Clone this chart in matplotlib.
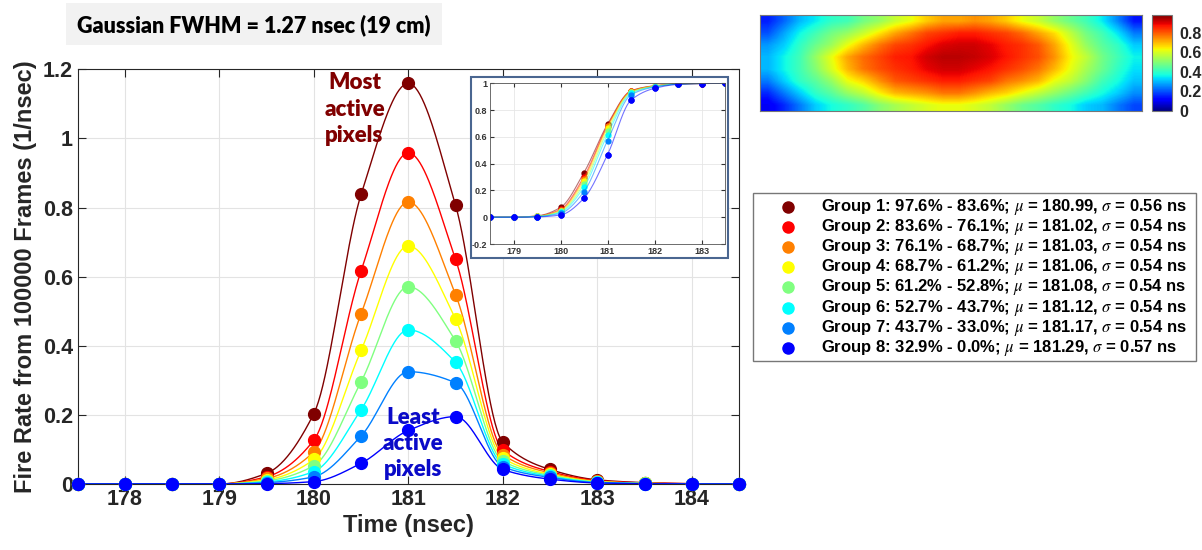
import numpy as np
import matplotlib
matplotlib.use('Agg')
import matplotlib.pyplot as plt
from matplotlib.patches import Rectangle
from matplotlib.ticker import FuncFormatter

plt.rcParams['mathtext.fontset'] = 'stix'
plt.rcParams['font.family'] = ['Liberation Sans', 'DejaVu Sans']

# time bins (nsec)
t_ns = [177.5, 178, 178.5, 179, 179.5, 180, 180.5, 181, 181.5, 182, 182.5, 183, 183.5, 184, 184.5]

# fire rate per group (1/nsec), group 1 = most active pixels
g1 = [0, 0, 0, 0, 0.031, 0.204, 0.838, 1.159, 0.806, 0.121, 0.042, 0.012, 0.004, 0.001, 0]
g2 = [0, 0, 0, 0, 0.021, 0.127, 0.617, 0.958, 0.650, 0.098, 0.036, 0.010, 0.003, 0.001, 0]
g3 = [0, 0, 0, 0, 0.016, 0.093, 0.493, 0.816, 0.548, 0.085, 0.032, 0.008, 0.002, 0, 0]
g4 = [0, 0, 0, 0, 0.012, 0.071, 0.387, 0.689, 0.477, 0.075, 0.028, 0.007, 0.002, 0, 0]
g5 = [0, 0, 0, 0, 0.009, 0.053, 0.296, 0.571, 0.414, 0.066, 0.025, 0.006, 0.002, 0, 0]
g6 = [0, 0, 0, 0, 0.006, 0.036, 0.215, 0.446, 0.352, 0.058, 0.022, 0.005, 0.001, 0, 0]
g7 = [0, 0, 0, 0, 0.004, 0.021, 0.139, 0.325, 0.293, 0.050, 0.019, 0.004, 0.001, 0, 0]
g8 = [0, 0, 0, 0, 0.001, 0.007, 0.060, 0.155, 0.195, 0.042, 0.014, 0.003, 0.001, 0, 0]
groups = [g1, g2, g3, g4, g5, g6, g7, g8]

# legend info
pct_hi = ['97.6', '83.6', '76.1', '68.7', '61.2', '52.7', '43.7', '32.9']
pct_lo = ['83.6', '76.1', '68.7', '61.2', '52.8', '43.7', '33.0', '0.0']
mu = ['180.99', '181.02', '181.03', '181.06', '181.08', '181.12', '181.17', '181.29']
sigma = ['0.56', '0.54', '0.54', '0.54', '0.54', '0.54', '0.54', '0.57']

# jet(8), reversed so group 1 is dark red
colors = ['#800000', '#ff0000', '#ff8000', '#ffff00', '#80ff80', '#00ffff', '#0080ff', '#0000ff']

# pixel activity map (coarse estimate, rows top->bottom)
pixel_activity = [
    [0.15, 0.22, 0.3, 0.35, 0.4, 0.42, 0.48, 0.52, 0.58, 0.62, 0.68, 0.72, 0.72, 0.74, 0.72, 0.68, 0.62, 0.58, 0.52, 0.47, 0.42, 0.35, 0.25, 0.14],
    [0.2, 0.28, 0.36, 0.42, 0.48, 0.52, 0.58, 0.65, 0.72, 0.77, 0.82, 0.84, 0.86, 0.86, 0.84, 0.82, 0.78, 0.72, 0.66, 0.57, 0.48, 0.42, 0.34, 0.24],
    [0.27, 0.32, 0.4, 0.47, 0.53, 0.62, 0.7, 0.77, 0.82, 0.84, 0.87, 0.9, 0.91, 0.91, 0.89, 0.86, 0.84, 0.8, 0.72, 0.62, 0.52, 0.45, 0.4, 0.32],
    [0.3, 0.36, 0.42, 0.52, 0.62, 0.72, 0.78, 0.82, 0.86, 0.87, 0.91, 0.93, 0.93, 0.92, 0.9, 0.87, 0.84, 0.81, 0.74, 0.64, 0.57, 0.48, 0.42, 0.36],
    [0.3, 0.36, 0.42, 0.5, 0.6, 0.7, 0.77, 0.81, 0.84, 0.86, 0.89, 0.91, 0.91, 0.89, 0.87, 0.84, 0.81, 0.77, 0.7, 0.62, 0.54, 0.47, 0.4, 0.34],
    [0.24, 0.32, 0.4, 0.45, 0.52, 0.62, 0.67, 0.74, 0.8, 0.82, 0.84, 0.86, 0.86, 0.84, 0.82, 0.77, 0.74, 0.7, 0.62, 0.57, 0.5, 0.42, 0.37, 0.31],
    [0.16, 0.24, 0.32, 0.4, 0.45, 0.52, 0.57, 0.64, 0.7, 0.72, 0.74, 0.77, 0.77, 0.74, 0.7, 0.67, 0.62, 0.57, 0.52, 0.47, 0.42, 0.37, 0.32, 0.26],
    [0.1, 0.16, 0.24, 0.32, 0.37, 0.4, 0.44, 0.5, 0.54, 0.57, 0.6, 0.62, 0.62, 0.6, 0.57, 0.52, 0.47, 0.44, 0.4, 0.37, 0.32, 0.3, 0.24, 0.19],
]


def pchip(x, y, xq):
    # shape preserving piecewise cubic, like matlab's pchip
    x = np.asarray(x, float)
    y = np.asarray(y, float)
    h = np.diff(x)
    delta = np.diff(y) / h
    d = np.zeros_like(y)
    for k in range(1, len(y) - 1):
        if delta[k - 1] * delta[k] > 0:
            w1 = 2 * h[k] + h[k - 1]
            w2 = h[k] + 2 * h[k - 1]
            d[k] = (w1 + w2) / (w1 / delta[k - 1] + w2 / delta[k])
    idx = np.clip(np.searchsorted(x, xq) - 1, 0, len(h) - 1)
    s = (xq - x[idx]) / h[idx]
    h00 = 2 * s**3 - 3 * s**2 + 1
    h10 = s**3 - 2 * s**2 + s
    h01 = -2 * s**3 + 3 * s**2
    h11 = s**3 - s**2
    return h00 * y[idx] + h10 * h[idx] * d[idx] + h01 * y[idx + 1] + h11 * h[idx] * d[idx + 1]


W, H = 1202, 550
fig = plt.figure(figsize=(W / 100, H / 100), dpi=100)


def box(l, t, r, b):
    return [l / W, 1 - b / H, (r - l) / W, (b - t) / H]


fmt = FuncFormatter(lambda v, p: '%g' % round(v, 2))
tq = np.linspace(t_ns[0], t_ns[-1], 600)

# main plot
ax = fig.add_axes(box(77.7, 69.3, 739, 484))
for g, c in zip(groups, colors):
    ax.plot(tq, pchip(t_ns, g, tq), color=c, lw=1)
    ax.plot(t_ns, g, 'o', color=c, ms=8.5, clip_on=False, zorder=3)
ax.set_xlim(177.5, 184.5)
ax.set_ylim(0, 1.2)
ax.set_xticks(range(178, 185))
ax.set_yticks(np.arange(0, 1.21, 0.2))
ax.yaxis.set_major_formatter(fmt)
ax.tick_params(direction='in', top=True, right=True, labelsize=15.5, length=6, color='#262626')
for lab in ax.get_xticklabels() + ax.get_yticklabels():
    lab.set_fontweight('bold')
    lab.set_color('#262626')
ax.grid(True, color='#e3e3e3', lw=0.8)
for sp in ax.spines.values():
    sp.set_color('#262626')
ax.set_xlabel('Time (nsec)', fontsize=17, fontweight='bold', color='#262626', labelpad=3)
ax.set_ylabel('Fire Rate from 100000 Frames (1/nsec)', fontsize=17, fontweight='bold', color='#262626', labelpad=4)

ax.text(180.43, 1.085, 'Most\nactive\npixels', color='#800000', fontsize=16, fontweight='heavy',
        family=['Lato', 'DejaVu Sans'], ha='center', va='center', linespacing=1.3)
ax.text(181.05, 0.118, 'Least\nactive\npixels', color='#0a0ac8', fontsize=16, fontweight='heavy',
        family=['Lato', 'DejaVu Sans'], ha='center', va='center', linespacing=1.3)

# inset: normalized cumulative rate
fig.patches.append(Rectangle((471 / W, 1 - 258 / H), 257 / W, 181 / H, transform=fig.transFigure,
                             facecolor='white', edgecolor='#4a6690', lw=1.5, zorder=2))
axi = fig.add_axes(box(490, 83.3, 725, 244), zorder=3)
for g, c in zip(groups, colors):
    cdf = np.cumsum(g) / np.sum(g)
    axi.plot(tq, pchip(t_ns, cdf, tq), color=c, lw=0.8, alpha=0.55)
    axi.plot(t_ns, cdf, 'o', color=c, ms=3.5)
axi.plot(t_ns, np.cumsum(g8) / np.sum(g8), 'o', color='#0000ff', ms=3.5)
axi.set_xlim(178.5, 183.5)
axi.set_ylim(-0.2, 1)
axi.set_xticks(range(179, 184))
axi.set_yticks(np.arange(-0.2, 1.01, 0.2))
axi.yaxis.set_major_formatter(fmt)
axi.tick_params(direction='in', top=True, right=True, labelsize=6.5, length=3, pad=2, colors='#333333')
for lab in axi.get_xticklabels() + axi.get_yticklabels():
    lab.set_fontweight('bold')
axi.grid(True, color='#e6e6e6', lw=0.6)
for sp in axi.spines.values():
    sp.set_color('#555555')
    sp.set_linewidth(0.6)

# pixel map and colorbar
axh = fig.add_axes(box(760, 15, 1142, 111))
im = axh.imshow(pixel_activity, cmap='jet', vmin=0, vmax=0.98, aspect='auto', interpolation='bilinear')
axh.set_xticks([])
axh.set_yticks([])
for sp in axh.spines.values():
    sp.set_color('#777777')
axc = fig.add_axes(box(1152, 15, 1172, 111))
cb = fig.colorbar(im, cax=axc, ticks=[0, 0.2, 0.4, 0.6, 0.8])
cb.ax.yaxis.set_major_formatter(fmt)
cb.ax.tick_params(labelsize=11.5, length=0, pad=5, colors='#262626')
for lab in cb.ax.get_yticklabels():
    lab.set_fontweight('bold')
cb.outline.set_edgecolor('#777777')

# legend box
fig.patches.append(Rectangle((753 / W, 1 - 361 / H), 443 / W, 168 / H, transform=fig.transFigure,
                             facecolor='white', edgecolor='#777777', lw=1))
for i, c in enumerate(colors):
    y = 1 - (207 + 20.1 * i) / H
    fig.lines.append(plt.Line2D([788 / W], [y], marker='o', ms=8, color=c, transform=fig.transFigure))
    fig.text(821 / W, y, 'Group %d: %s%% - %s%%; $\\mu$ = %s, $\\sigma$ = %s ns' % (i + 1, pct_hi[i], pct_lo[i], mu[i], sigma[i]),
             fontsize=12, fontweight='bold', va='center', ha='left', color='black')

# title box
fig.patches.append(Rectangle((66 / W, 1 - 45 / H), 376 / W, 42 / H, transform=fig.transFigure,
                             facecolor='#f2f2f2', edgecolor='none'))
fig.text(254 / W, 1 - 25 / H, 'Gaussian FWHM = 1.27 nsec (19 cm)', fontsize=15.5, fontweight='heavy',
         family=['Lato', 'DejaVu Sans'], ha='center', va='center')

fig.savefig('out.png', dpi=100)
